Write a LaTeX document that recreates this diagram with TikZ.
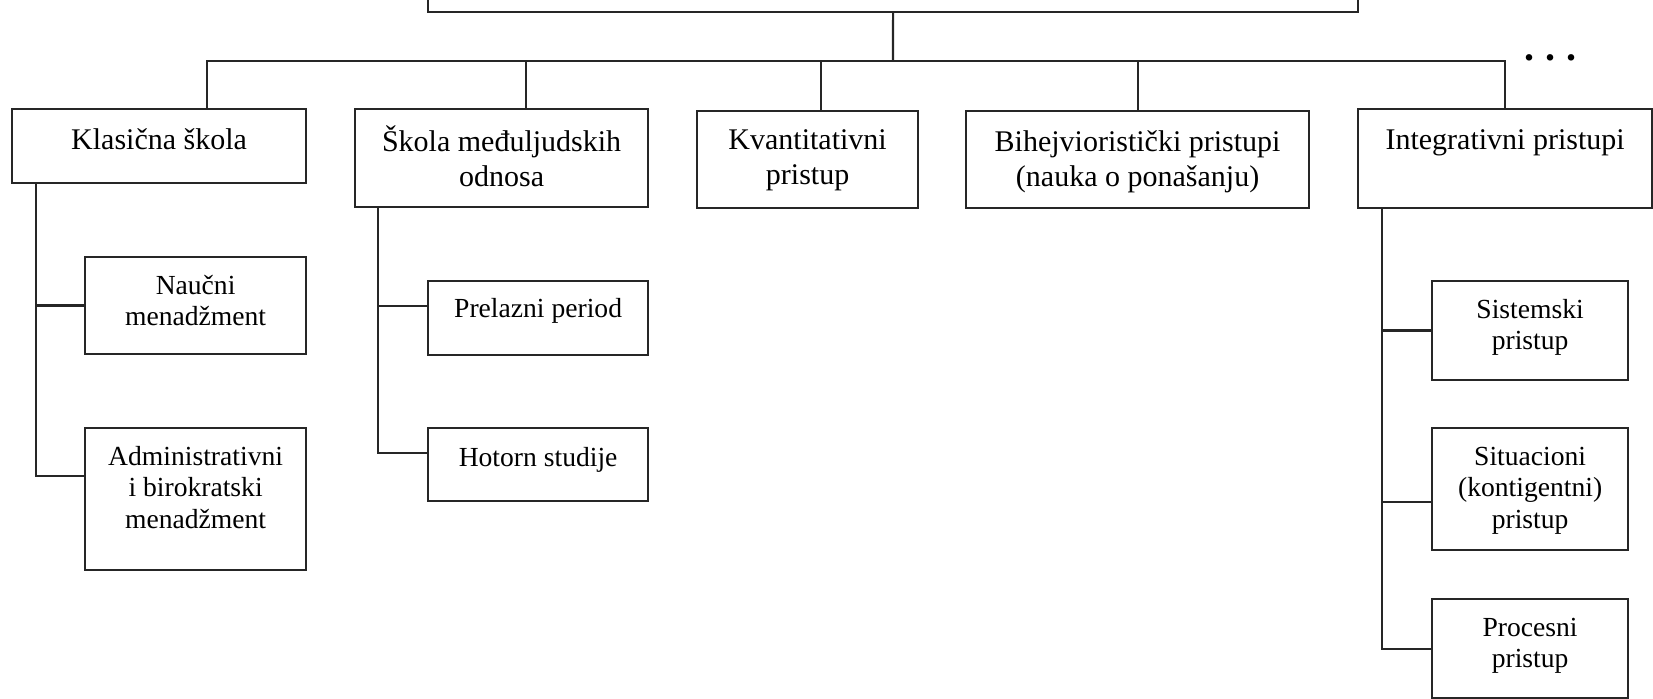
\documentclass[tikz,border=0pt]{standalone}
\usepackage{fontspec}
\setmainfont{Liberation Serif}
\tikzset{
box/.style={draw=black!85, line width=1.1pt, inner sep=0pt, anchor=north west, align=center, text height=20pt, font=\fontsize{15}{17.5}\selectfont}, % the boxes of the first row
subbox/.style={box, text height=18.5pt, font=\fontsize{13.8}{15.75}\selectfont}, % the smaller boxes below them
link/.style={draw=black!85, line width=1.1pt}, % the lines between the boxes
}
\begin{document}
\begin{tikzpicture}[x=0.5pt, y=-0.5pt]
      \useasboundingbox (0,0) rectangle (1653,699);
      \clip (0,0) rectangle (1653,699);

      \node[box, minimum width=465pt, minimum height=25.5pt] (top) at (427,-40) {};
      \node[box, minimum width=147pt, text depth=17pt] (klasicna) at (11,108) {Klasična škola};
      \node[box, minimum width=146.5pt, text height=38.5pt, text depth=10.5pt] (medjuljudski) at (354,108) {Škola međuljudskih\\odnosa};
      \node[box, minimum width=110.5pt, text height=36.5pt, text depth=12pt] (kvantitativni) at (696,110) {Kvantitativni\\pristup};
      \node[box, minimum width=171.5pt, text height=37.5pt, text depth=11pt] (bihejv) at (965,110) {Bihejvioristički pristupi\\(nauka o ponašanju)};
      \node[box, minimum width=147pt, text depth=29.5pt] (integrativni) at (1357,108) {Integrativni pristupi};
      \node[font=\fontsize{20}{22}\selectfont\bfseries, anchor=base] (dots) at (1550,61) {.\hspace{5.5pt}.\hspace{5.5pt}.};

      \node[subbox, minimum width=110.5pt, text height=34.25pt, text depth=14.25pt] (naucni) at (84,256) {Naučni\\menadžment};
      \node[subbox, minimum width=110.5pt, text height=50pt, text depth=21pt] (administrativni) at (84,427) {Administrativni\\i birokratski\\menadžment};
      \node[subbox, minimum width=110pt, text height=18pt, text depth=19pt] (prelazni) at (427,280) {Prelazni period};
      \node[subbox, minimum width=110pt, text height=19pt, text depth=17.5pt] (hotorn) at (427,427) {Hotorn studije};
      \node[subbox, minimum width=98pt, text height=34.25pt, text depth=15.25pt] (sistemski) at (1431,280) {Sistemski\\pristup};
      \node[subbox, minimum width=98pt, text height=50pt, text depth=11pt] (situacioni) at (1431,427) {Situacioni\\(kontigentni)\\pristup};
      \node[subbox, minimum width=98pt, text height=34.25pt, text depth=15.25pt] (procesni) at (1431,598) {Procesni\\pristup};

      \coordinate (bus) at (893,61);
      \draw[link] (top.south) -- (bus);
      \draw[link] ([xshift=24pt]klasicna.north) |- (bus) -| (integrativni.north);
      \draw[link] ([xshift=12.25pt]medjuljudski.north) -- ([xshift=12.25pt]medjuljudski.north |- bus);
      \draw[link] ([xshift=6.5pt]kvantitativni.north) -- ([xshift=6.5pt]kvantitativni.north |- bus);
      \draw[link] (bihejv.north) -- (bihejv.north |- bus);

      \draw[link] ([xshift=12.5pt]klasicna.south west) coordinate (k1) |- ([yshift=11.5pt]administrativni.west);
      \draw[link] (naucni.west) -- (naucni.west -| k1);
      \draw[link] ([xshift=12pt]medjuljudski.south west) coordinate (k2) |- ([yshift=5.75pt]hotorn.west);
      \draw[link] ([yshift=6pt]prelazni.west) -- ([yshift=6pt]prelazni.west -| k2);
      \draw[link] ([xshift=12.5pt]integrativni.south west) coordinate (k5) |- (procesni.west);
      \draw[link] (sistemski.west) -- (sistemski.west -| k5);
      \draw[link] ([yshift=-6.5pt]situacioni.west) -- ([yshift=-6.5pt]situacioni.west -| k5);
\end{tikzpicture}
\end{document}
